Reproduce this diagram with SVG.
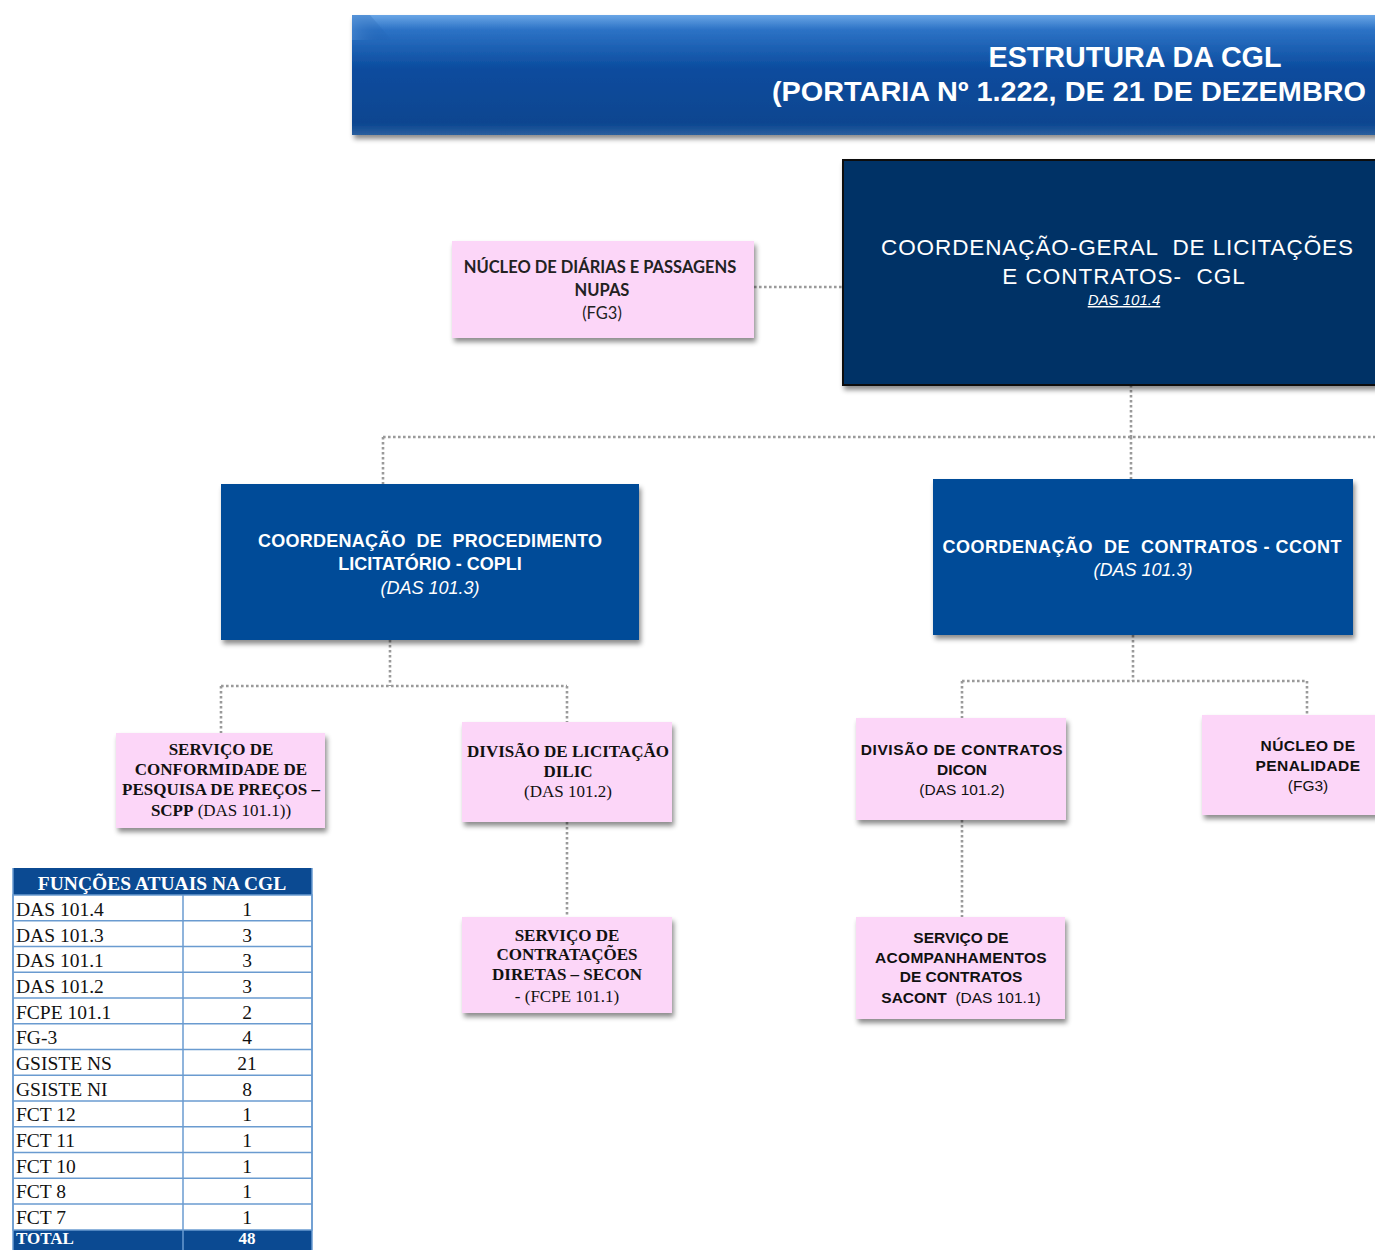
<svg xmlns="http://www.w3.org/2000/svg" width="1375" height="1250" viewBox="0 0 1375 1250">
<defs>
<linearGradient id="bannerGrad" x1="0" y1="0" x2="0" y2="1">
<stop offset="0" stop-color="#6aa6e6"/>
<stop offset="0.12" stop-color="#2d73c6"/>
<stop offset="0.45" stop-color="#0b4c9e"/>
<stop offset="0.9" stop-color="#0a4590"/>
<stop offset="1" stop-color="#2a5f9e"/>
</linearGradient>
<linearGradient id="bevel" x1="0" y1="0" x2="1" y2="0">
<stop offset="0" stop-color="#4a88d0"/>
<stop offset="1" stop-color="#0b4c9e" stop-opacity="0"/>
</linearGradient>
<filter id="sh" x="-10%" y="-10%" width="125%" height="130%">
<feDropShadow dx="2" dy="4" stdDeviation="2.5" flood-color="#000" flood-opacity="0.45"/>
</filter>
</defs>
<style>
.conn{fill:none;stroke:#9a9a9a;stroke-width:2.6;stroke-dasharray:2.6 2.4}
.pink{fill:#fcd6f8;filter:url(#sh)}
.blue{fill:#064c98;filter:url(#sh)}
.wt{fill:#ffffff;font-family:"Liberation Sans",Arial,sans-serif;text-anchor:middle;white-space:pre}
.cal{fill:#222;font-family:Lato,"Liberation Sans",sans-serif;text-anchor:middle}
.tim{fill:#111;font-family:"Liberation Serif","Times New Roman",serif;text-anchor:middle}
.ari{fill:#111;font-family:"Liberation Sans",Arial,sans-serif;text-anchor:middle;white-space:pre}
.tc{font-family:"Liberation Serif","Times New Roman",serif;font-size:19.5px;fill:#111}
.grid{stroke:#6a9bd0;stroke-width:1.5}
</style>
<rect width="1375" height="1250" fill="#ffffff"/>

<g id="banner">
<rect x="352" y="15" width="1030" height="120" fill="url(#bannerGrad)" filter="url(#sh)"/>
<polygon points="352,15 370,15 392,40 352,40" fill="url(#bevel)" opacity="0.6"/>
<text class="wt" x="1135" y="67" font-size="29" font-weight="bold" textLength="293" lengthAdjust="spacingAndGlyphs">ESTRUTURA DA CGL</text>
<text class="wt" x="1069" y="101" font-size="28" font-weight="bold" textLength="594" lengthAdjust="spacingAndGlyphs">(PORTARIA Nº 1.222, DE 21 DE DEZEMBRO</text>
</g>

<g id="connectors">
<path class="conn" d="M754,287 H843"/>
<path class="conn" d="M1131,385 V437 M383,437 H1375 M383,437 V484 M1131,437 V479"/>
<path class="conn" d="M390,640 V686 M221,686 H567 M221,686 V733 M567,686 V722"/>
<path class="conn" d="M567,822 V917"/>
<path class="conn" d="M1133,635 V681 M962,681 H1307 M962,681 V718 M1307,681 V715"/>
<path class="conn" d="M962,820 V917"/>
</g>

<g id="cgl">
<rect x="843" y="160" width="540" height="225" fill="#003366" stroke="#111" stroke-width="2" filter="url(#sh)"/>
<text class="wt" x="1117" y="255" font-size="22.5" xml:space="preserve" textLength="472" lengthAdjust="spacing">COORDENAÇÃO-GERAL  DE LICITAÇÕES</text>
<text class="wt" x="1124" y="284" font-size="22.5" letter-spacing="1" xml:space="preserve">E CONTRATOS-  CGL</text>
<text class="wt" x="1124" y="305" font-size="15" font-style="italic" text-decoration="underline">DAS 101.4</text>
</g>

<g id="nupas">
<rect class="pink" x="452" y="241" width="302" height="97"/>
<text class="cal" x="600" y="273" font-size="16.5" font-weight="bold">NÚCLEO DE DIÁRIAS E PASSAGENS</text>
<text class="cal" x="602" y="296" font-size="16.5" font-weight="bold">NUPAS</text>
<text class="cal" x="602" y="319" font-size="16.5">(FG3)</text>
</g>

<g id="copli">
<rect class="blue" x="221" y="484" width="418" height="156"/>
<text class="wt" x="430" y="547" font-size="18" font-weight="bold" xml:space="preserve" textLength="344" lengthAdjust="spacing">COORDENAÇÃO  DE  PROCEDIMENTO</text>
<text class="wt" x="430" y="570" font-size="18" font-weight="bold">LICITATÓRIO - COPLI</text>
<text class="wt" x="430" y="594" font-size="18" font-style="italic">(DAS 101.3)</text>
</g>

<g id="ccont">
<rect class="blue" x="933" y="479" width="420" height="156"/>
<text class="wt" x="1142" y="553" font-size="18" font-weight="bold" xml:space="preserve" textLength="399" lengthAdjust="spacing">COORDENAÇÃO  DE  CONTRATOS - CCONT</text>
<text class="wt" x="1143" y="576" font-size="18" font-style="italic">(DAS 101.3)</text>
</g>

<g id="scpp">
<rect class="pink" x="116" y="733" width="209" height="95"/>
<text class="tim" x="221" y="755" font-size="17" font-weight="bold">SERVIÇO DE</text>
<text class="tim" x="221" y="775" font-size="17" font-weight="bold">CONFORMIDADE DE</text>
<text class="tim" x="221" y="795" font-size="17" font-weight="bold">PESQUISA DE PREÇOS –</text>
<text class="tim" x="221" y="816" font-size="17"><tspan font-weight="bold">SCPP</tspan> (DAS 101.1))</text>
</g>

<g id="dilic">
<rect class="pink" x="462" y="722" width="210" height="100"/>
<text class="tim" x="568" y="757" font-size="17" font-weight="bold">DIVISÃO DE LICITAÇÃO</text>
<text class="tim" x="568" y="777" font-size="17" font-weight="bold">DILIC</text>
<text class="tim" x="568" y="797" font-size="17">(DAS 101.2)</text>
</g>

<g id="secon">
<rect class="pink" x="462" y="917" width="210" height="96"/>
<text class="tim" x="567" y="941" font-size="17" font-weight="bold">SERVIÇO DE</text>
<text class="tim" x="567" y="960" font-size="17" font-weight="bold">CONTRATAÇÕES</text>
<text class="tim" x="567" y="980" font-size="17" font-weight="bold">DIRETAS – SECON</text>
<text class="tim" x="567" y="1002" font-size="17">- (FCPE 101.1)</text>
</g>

<g id="dicon">
<rect class="pink" x="856" y="718" width="210" height="102"/>
<text class="ari" x="962" y="755" font-size="15.5" font-weight="bold" letter-spacing="0.6">DIVISÃO DE CONTRATOS</text>
<text class="ari" x="962" y="775" font-size="15.5" font-weight="bold">DICON</text>
<text class="ari" x="962" y="795" font-size="15.5">(DAS 101.2)</text>
</g>

<g id="penalidade">
<rect class="pink" x="1202" y="715" width="185" height="100"/>
<text class="ari" x="1308" y="751" font-size="15.5" font-weight="bold" letter-spacing="0.4">NÚCLEO DE</text>
<text class="ari" x="1308" y="771" font-size="15.5" font-weight="bold" letter-spacing="0.4">PENALIDADE</text>
<text class="ari" x="1308" y="791" font-size="15.5">(FG3)</text>
</g>

<g id="sacont">
<rect class="pink" x="856" y="917" width="209" height="102"/>
<text class="ari" x="961" y="943" font-size="15.5" font-weight="bold">SERVIÇO DE</text>
<text class="ari" x="961" y="963" font-size="15.5" font-weight="bold" letter-spacing="0.3">ACOMPANHAMENTOS</text>
<text class="ari" x="961" y="982" font-size="15.5" font-weight="bold">DE CONTRATOS</text>
<text class="ari" x="961" y="1003" font-size="15.5" xml:space="preserve"><tspan font-weight="bold">SACONT</tspan>  (DAS 101.1)</text>
</g>

<g id="tabela">
<rect x="13" y="868" width="299" height="27" fill="#0b4a92"/>
<text class="tc" x="162" y="890" text-anchor="middle" font-weight="bold" style="fill:#ffffff">FUNÇÕES ATUAIS NA CGL</text>
<rect x="13" y="1230" width="299" height="22" fill="#0b4a92"/>
<rect x="13" y="895" width="299" height="335" fill="#ffffff" class="grid"/>
<g class="grid">
<line x1="13" y1="920.8" x2="312" y2="920.8"/>
<line x1="13" y1="946.5" x2="312" y2="946.5"/>
<line x1="13" y1="972.3" x2="312" y2="972.3"/>
<line x1="13" y1="998" x2="312" y2="998"/>
<line x1="13" y1="1023.8" x2="312" y2="1023.8"/>
<line x1="13" y1="1049.5" x2="312" y2="1049.5"/>
<line x1="13" y1="1075.3" x2="312" y2="1075.3"/>
<line x1="13" y1="1101" x2="312" y2="1101"/>
<line x1="13" y1="1126.8" x2="312" y2="1126.8"/>
<line x1="13" y1="1152.5" x2="312" y2="1152.5"/>
<line x1="13" y1="1178.3" x2="312" y2="1178.3"/>
<line x1="13" y1="1204" x2="312" y2="1204"/>
<line x1="183" y1="895" x2="183" y2="1250"/>
<line x1="13" y1="868" x2="13" y2="1250"/>
<line x1="312" y1="868" x2="312" y2="1250"/>
</g>
<g class="tc">
<text x="16" y="916">DAS 101.4</text><text x="247" y="916" text-anchor="middle">1</text>
<text x="16" y="942">DAS 101.3</text><text x="247" y="942" text-anchor="middle">3</text>
<text x="16" y="967">DAS 101.1</text><text x="247" y="967" text-anchor="middle">3</text>
<text x="16" y="993">DAS 101.2</text><text x="247" y="993" text-anchor="middle">3</text>
<text x="16" y="1019">FCPE 101.1</text><text x="247" y="1019" text-anchor="middle">2</text>
<text x="16" y="1044">FG-3</text><text x="247" y="1044" text-anchor="middle">4</text>
<text x="16" y="1070">GSISTE NS</text><text x="247" y="1070" text-anchor="middle">21</text>
<text x="16" y="1096">GSISTE NI</text><text x="247" y="1096" text-anchor="middle">8</text>
<text x="16" y="1121">FCT 12</text><text x="247" y="1121" text-anchor="middle">1</text>
<text x="16" y="1147">FCT 11</text><text x="247" y="1147" text-anchor="middle">1</text>
<text x="16" y="1173">FCT 10</text><text x="247" y="1173" text-anchor="middle">1</text>
<text x="16" y="1198">FCT 8</text><text x="247" y="1198" text-anchor="middle">1</text>
<text x="16" y="1224">FCT 7</text><text x="247" y="1224" text-anchor="middle">1</text>
<text x="16" y="1244" font-size="17" style="fill:#ffffff" font-weight="bold">TOTAL</text><text x="247" y="1244" font-size="17" text-anchor="middle" style="fill:#ffffff" font-weight="bold">48</text>
</g>
</g>
</svg>
